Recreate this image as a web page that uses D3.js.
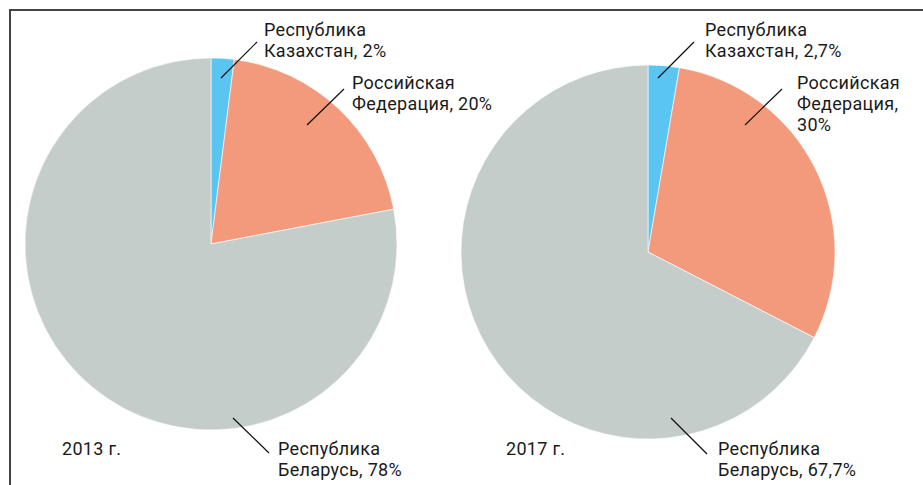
<!DOCTYPE html>
<html><head><meta charset="utf-8">
<script src="https://cdn.jsdelivr.net/npm/d3@7"></script>
<style>body{margin:0;background:#fff}svg{display:block}text{font-family:Roboto,sans-serif;font-size:18px;letter-spacing:0.3px;fill:#1a1a1a}</style>
</head><body><svg id="c" width="923" height="485"></svg>
<script>
const categories = ["Республика Казахстан", "Российская Федерация", "Республика Беларусь"];
const years = ["2013 г.", "2017 г."];
const values2013 = [2, 20, 78];
const values2017 = [2.7, 30, 67.7];
const valueLabels2013 = ["2%", "20%", "78%"];
const valueLabels2017 = ["2,7%", "30%", "67,7%"];
const colors = ["#5bc5f1", "#f39a7c", "#c5cdca"];

// label text lines per pie (layout)
const labelLines = [
  [["Республика","Казахстан, " + valueLabels2013[0]],["Российская","Федерация, " + valueLabels2013[1]],["Республика","Беларусь, " + valueLabels2013[2]]],
  [["Республика","Казахстан, " + valueLabels2017[0]],["Российская","Федерация,", valueLabels2017[1]],["Республика","Беларусь, " + valueLabels2017[2]]]
];

const svg = d3.select("#c");
// frame
svg.append("path").attr("d","M10,485V10H923").attr("fill","none").attr("stroke","#444").attr("stroke-width",2);

const pies = [
  {cx:211, cy:244, r:186, values:values2013, year:years[0], yearPos:[62,455],
   leaders:[[[221,78],[257,42]],[[307,125],[344,89]],[[233,418],[269,453]]],
   labels:[[264,36],[352,89],[278,455]]},
  {cx:648, cy:252, r:187, values:values2017, year:years[1], yearPos:[506,455],
   leaders:[[[658,78],[694,42]],[[745,125],[782,89]],[[671,418],[707,454]]],
   labels:[[705,36],[797,89],[718,455]]}
];

const pie = d3.pie().sort(null).value(d=>d);
pies.forEach((p,pi)=>{
  const arc = d3.arc().innerRadius(0).outerRadius(p.r);
  const g = svg.append("g").attr("transform",`translate(${p.cx},${p.cy})`);
  g.selectAll("path").data(pie(p.values)).join("path")
    .attr("d",arc).attr("fill",(d,i)=>colors[i]).attr("stroke","#fff").attr("stroke-width",0.6);
  p.leaders.forEach(l=>{
    svg.append("line").attr("x1",l[0][0]).attr("y1",l[0][1]).attr("x2",l[1][0]).attr("y2",l[1][1])
      .attr("stroke","#111").attr("stroke-width",1.2);
  });
  p.labels.forEach((pos,i)=>{
    labelLines[pi][i].forEach((ln,j)=>{
      svg.append("text").attr("x",pos[0]).attr("y",pos[1]+j*21).text(ln);
    });
  });
  svg.append("text").attr("x",p.yearPos[0]).attr("y",p.yearPos[1]).text(p.year);
});
</script></body></html>
